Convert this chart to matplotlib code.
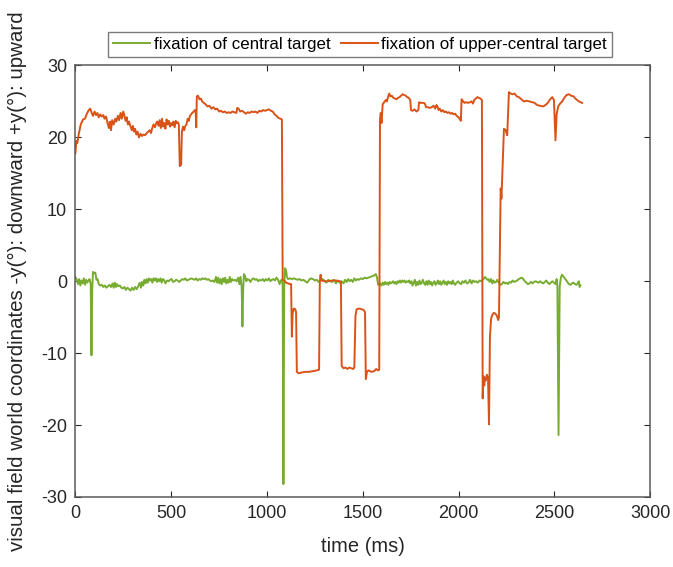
import numpy as np
import matplotlib.pyplot as plt

plt.rcParams['font.family'] = ['Liberation Sans', 'DejaVu Sans']
plt.rcParams['axes.unicode_minus'] = False

# fixation of central target: time (ms), vertical position (deg)
central_t = [0, 8, 14, 20, 26, 32, 38, 44, 50, 56, 62, 68, 74, 80, 84, 88, 92, 98, 104, 110,
             116, 122, 130, 138, 146, 154, 162, 170, 178, 186, 194, 200, 206, 212, 218, 224,
             232, 240, 248, 256, 264, 272, 280, 288, 296, 304, 312, 320, 328, 336, 342, 348,
             354, 360, 366, 372, 378, 384, 390, 396, 402, 408, 414, 420, 426, 432, 438, 444,
             450, 456, 462, 470, 478, 486, 494, 502, 510, 518, 526, 534, 542, 550, 558, 566,
             574, 582, 590, 598, 606, 614, 622, 630, 638, 646, 654, 662, 670, 678, 686, 694,
             702, 710, 718, 726, 734, 740, 746, 752, 758, 764, 770, 776, 782, 788, 794, 800,
             806, 812, 818, 826, 834, 842, 850, 856, 862, 868, 872, 876, 880, 886, 892, 898,
             906, 914, 922, 930, 938, 946, 954, 962, 970, 978, 986, 994, 1002, 1010, 1018,
             1026, 1034, 1042, 1050, 1058, 1066, 1072, 1078, 1082, 1086, 1090, 1094, 1100,
             1104, 1110, 1120, 1130, 1140, 1150, 1160, 1170, 1180, 1190, 1200, 1210, 1220,
             1230, 1240, 1250, 1260, 1270, 1280, 1290, 1300, 1310, 1320, 1330, 1340, 1350,
             1360, 1370, 1380, 1390, 1400, 1408, 1416, 1424, 1432, 1440, 1448, 1456, 1464,
             1472, 1480, 1490, 1500, 1510, 1520, 1530, 1540, 1550, 1560, 1568, 1574, 1580,
             1590, 1598, 1604, 1610, 1616, 1622, 1628, 1634, 1640, 1646, 1652, 1658, 1664,
             1670, 1676, 1682, 1688, 1694, 1700, 1706, 1712, 1718, 1724, 1730, 1736, 1742,
             1748, 1754, 1760, 1766, 1772, 1778, 1784, 1790, 1796, 1802, 1808, 1814, 1820,
             1826, 1832, 1838, 1844, 1850, 1856, 1862, 1868, 1874, 1880, 1886, 1892, 1898,
             1904, 1910, 1916, 1922, 1928, 1934, 1940, 1946, 1952, 1958, 1964, 1970, 1976,
             1982, 1990, 1998, 2006, 2014, 2020, 2028, 2036, 2044, 2052, 2060, 2068, 2076,
             2084, 2092, 2100, 2110, 2120, 2130, 2138, 2144, 2150, 2156, 2162, 2170, 2176,
             2182, 2188, 2196, 2202, 2210, 2218, 2226, 2234, 2242, 2250, 2258, 2266, 2274,
             2282, 2290, 2298, 2306, 2314, 2322, 2330, 2338, 2346, 2354, 2362, 2370, 2378,
             2386, 2394, 2402, 2410, 2418, 2426, 2434, 2442, 2450, 2458, 2466, 2474, 2482,
             2490, 2498, 2506, 2512, 2516, 2522, 2528, 2534, 2540, 2546, 2552, 2560, 2568,
             2576, 2584, 2592, 2600, 2608, 2616, 2622, 2628, 2632, 2636]
central_y = [0.6, 0.2, -0.4, 0.3, -0.6, 0.1, -0.3, 0.4, -0.5, 0.2, -0.2, 0.1, 0.3, -0.4, -10.3,
             -1.0, 1.3, 1.1, 1.2, 0.2, 0.3, -0.4, -0.6, -0.5, -0.8, -0.6, -0.9, -0.7, -0.5,
             -0.8, -0.3, -0.9, -0.2, -0.8, -0.4, -0.7, -0.6, -0.9, -1.0, -0.8, -1.2, -0.9,
             -1.1, -1.3, -0.9, -1.2, -0.8, -1.1, -0.7, -0.2, -0.9, -0.1, -0.6, 0.2, -0.3, 0.3,
             -0.2, 0.4, 0.1, 0.3, -0.2, 0.4, 0.1, 0.4, -0.1, 0.3, 0.0, 0.4, -0.2, 0.3, 0.2,
             -0.3, 0.1, 0.0, 0.2, 0.3, -0.1, 0.0, 0.2, 0.1, -0.1, 0.1, 0.3, 0.2, 0.4, 0.1,
             0.2, 0.3, 0.4, 0.3, 0.2, 0.4, 0.1, 0.3, 0.2, 0.4, 0.3, 0.4, 0.2, 0.3, 0.1, 0.0,
             0.1, -0.1, 0.6, -0.2, 0.5, -0.3, 0.3, -0.4, 0.4, -0.1, 0.5, -0.3, 0.2, -0.2,
             0.6, -0.1, 0.3, 0.1, 0.2, 0.0, 0.5, -0.4, 0.6, -0.8, -6.3, -1.0, 1.0, 0.7, 0.0,
             0.3, 0.2, -0.1, 0.3, 0.4, 0.2, 0.3, 0.0, 0.2, 0.1, 0.3, 0.0, 0.3, 0.1, 0.4, 0.0,
             0.2, 0.3, 0.1, 0.5, 0.2, -0.4, 0.1, 0.2, -0.5, -28.2, -0.8, 1.8, 1.5, 0.6, 0.3,
             0.4, 0.3, 0.4, 0.3, 0.2, 0.3, 0.1, 0.2, 0.0, -0.2, 0.2, 0.4, 0.3, 0.1, 0.2,
             -0.1, 0.2, 0.3, 0.1, -0.2, 0.2, 0.0, -0.1, 0.2, -0.3, 0.1, -0.2, 0.0, -0.3, 0.2,
             -0.1, 0.3, 0.0, 0.2, -0.1, 0.4, 0.1, 0.3, 0.2, 0.4, 0.3, 0.5, 0.4, 0.5, 0.6,
             0.7, 0.8, 1.0, 0.6, -0.5, -0.3, -0.6, -0.2, -0.5, -0.1, -0.4, -0.2, -0.5, -0.1,
             -0.3, -0.2, 0.0, -0.3, -0.1, -0.4, 0.0, -0.2, 0.1, -0.2, 0.1, -0.1, 0.1, -0.2,
             0.0, -0.1, 0.1, -0.3, 0.0, -0.6, -0.2, 0.2, -0.6, -0.1, -0.5, 0.1, -0.4, -0.2,
             0.2, -0.3, -0.5, 0.0, -0.5, 0.1, -0.4, -0.1, -0.6, -0.2, 0.0, -0.5, -0.3, 0.1,
             -0.4, 0.0, -0.5, -0.2, 0.1, -0.4, -0.1, -0.5, 0.0, -0.3, -0.1, -0.4, 0.1, -0.3,
             -0.5, -0.2, 0.0, -0.3, -0.4, 0.0, -0.2, 0.1, -0.3, -0.2, 0.2, -0.3, 0.1, -0.1,
             0.0, -0.2, 0.1, 0.0, 0.3, 0.6, 0.4, 0.2, 0.3, -0.1, 0.3, -0.3, 0.1, -0.2, -0.1,
             0.2, -0.2, -0.5, -0.4, -0.1, -0.3, -0.2, -0.4, -0.1, -0.2, 0.1, -0.1, 0.0, 0.1,
             0.3, 0.4, 0.5, 0.3, 0.0, -0.2, -0.4, -0.3, -0.1, -0.3, -0.1, 0.0, -0.1, -0.2,
             0.0, -0.2, -0.3, -0.1, 0.1, -0.2, -0.4, -0.2, 0.0, -0.2, -0.4, 0.3, -0.5, -21.4,
             -0.8, 0.5, 0.9, 0.7, 0.5, 0.2, -0.1, -0.4, -0.5, -0.3, -0.2, -0.4, -0.5, -0.3,
             0.0, -0.8, -0.6]

# fixation of upper-central target
upper_t = [0, 5, 10, 18, 28, 40, 50, 60, 70, 78, 85, 92, 100, 108, 115, 122, 130, 138, 146,
           152, 160, 168, 175, 180, 186, 192, 200, 208, 214, 222, 228, 236, 242, 250, 256,
           262, 268, 274, 280, 288, 295, 300, 306, 312, 318, 325, 332, 340, 348, 356, 364,
           372, 380, 388, 395, 400, 408, 415, 422, 428, 434, 440, 446, 452, 458, 464, 470,
           476, 482, 488, 494, 500, 506, 512, 518, 524, 530, 536, 540, 545, 552, 556, 562,
           568, 574, 580, 586, 592, 598, 604, 610, 618, 624, 628, 631, 634, 640, 648, 655,
           662, 670, 680, 690, 700, 710, 720, 730, 740, 750, 760, 770, 780, 790, 800, 810,
           820, 830, 840, 845, 852, 860, 870, 880, 890, 900, 910, 920, 930, 940, 950, 960,
           970, 980, 990, 1000, 1010, 1020, 1030, 1040, 1050, 1060, 1070, 1078, 1082, 1090,
           1100, 1110, 1120, 1126, 1130, 1134, 1140, 1148, 1152, 1156, 1165, 1180, 1200,
           1220, 1240, 1260, 1272, 1276, 1280, 1284, 1300, 1320, 1340, 1360, 1380, 1386,
           1390, 1400, 1410, 1420, 1430, 1440, 1450, 1456, 1462, 1468, 1480, 1495, 1505,
           1512, 1516, 1522, 1530, 1545, 1560, 1570, 1580, 1586, 1590, 1594, 1598, 1604,
           1612, 1620, 1626, 1632, 1638, 1645, 1652, 1660, 1668, 1676, 1684, 1692, 1700,
           1708, 1716, 1724, 1732, 1740, 1748, 1752, 1760, 1770, 1780, 1790, 1794, 1802,
           1812, 1820, 1826, 1830, 1840, 1850, 1860, 1870, 1878, 1885, 1890, 1896, 1902,
           1910, 1918, 1926, 1934, 1942, 1950, 1958, 1966, 1974, 1982, 1990, 2000, 2008,
           2012, 2016, 2024, 2032, 2040, 2050, 2060, 2068, 2075, 2082, 2090, 2098, 2106,
           2114, 2122, 2126, 2130, 2134, 2138, 2142, 2148, 2154, 2159, 2164, 2170, 2176,
           2184, 2192, 2200, 2207, 2211, 2220, 2224, 2237, 2246, 2254, 2263, 2272, 2282,
           2292, 2304, 2315, 2328, 2341, 2356, 2370, 2384, 2397, 2410, 2424, 2440, 2454,
           2466, 2478, 2489, 2498, 2506, 2512, 2520, 2530, 2541, 2552, 2564, 2576, 2588,
           2601, 2610, 2619, 2628, 2637, 2645]
upper_y = [17.8, 19.5, 19.2, 20.5, 21.8, 22.5, 22.6, 23.3, 23.8, 24.0, 23.4, 23.0, 23.6, 23.1,
           23.4, 22.8, 23.2, 22.9, 23.1, 22.6, 22.9, 22.0, 21.3, 22.2, 21.0, 22.4, 21.8, 22.6,
           22.2, 23.0, 22.4, 23.4, 22.6, 23.6, 23.0, 22.3, 22.8, 21.8, 22.2, 21.5, 21.0, 21.6,
           20.8, 21.2, 20.4, 20.8, 20.0, 20.5, 20.2, 20.4, 20.3, 20.6, 20.8, 21.0, 20.6, 21.2,
           21.8, 21.4, 22.0, 22.2, 21.6, 22.4, 21.3, 22.6, 21.5, 22.0, 21.2, 22.5, 21.8, 22.3,
           21.5, 22.0, 21.7, 22.2, 21.4, 22.3, 22.0, 22.1, 21.8, 16.0, 16.2, 20.8, 21.5, 21.0,
           21.6, 21.8, 22.6, 22.3, 23.0, 23.2, 23.4, 23.6, 23.8, 23.5, 21.4, 25.7, 25.8, 25.3,
           25.4, 25.0, 24.8, 24.6, 24.3, 24.4, 24.0, 24.2, 23.9, 24.0, 23.6, 23.7, 23.5, 23.6,
           23.4, 23.5, 23.4, 23.6, 23.5, 23.4, 24.1, 24.0, 23.6, 23.7, 23.5, 23.3, 23.5, 23.4,
           23.6, 23.5, 23.6, 23.4, 23.7, 23.6, 23.8, 23.7, 23.8, 23.9, 23.7, 23.6, 23.2, 23.0,
           22.7, 22.6, 22.5, 0.2, 0.1, -0.2, -0.3, -0.4, -0.4, -7.7, -4.5, -3.8, -3.9, -4.3,
           -12.6, -12.8, -12.7, -12.6, -12.6, -12.5, -12.4, -12.3, 0.0, 0.9, 0.1, 0.0, 0.0,
           0.1, 0.1, 0.0, -0.1, -11.8, -12.1, -12.0, -12.2, -12.0, -12.1, -12.2, -12.0, -4.8,
           -3.9, -3.8, -3.9, -4.0, -4.3, -13.6, -12.6, -12.4, -12.6, -12.5, -12.2, -12.4,
           -12.3, 22.5, 23.4, 22.0, 24.6, 24.9, 25.2, 25.0, 25.6, 26.1, 25.7, 25.8, 25.5,
           25.4, 25.3, 25.5, 25.6, 25.8, 26.0, 25.9, 25.8, 25.6, 25.5, 25.2, 23.8, 23.7,
           23.9, 23.6, 23.8, 24.9, 24.8, 24.8, 24.8, 24.6, 24.2, 24.2, 24.1, 24.2, 24.4,
           24.0, 24.5, 24.3, 23.8, 24.0, 23.6, 23.8, 23.5, 23.6, 23.4, 23.5, 23.3, 23.4,
           23.2, 23.3, 23.0, 22.8, 22.5, 22.3, 25.3, 25.0, 24.8, 24.9, 24.8, 24.9, 25.0,
           24.7, 25.2, 25.4, 25.6, 25.5, 25.4, 25.2, -16.3, -13.2, -14.5, -13.4, -13.8,
           -13.0, -13.5, -19.9, -7.7, -5.2, -4.7, -4.4, -4.5, -4.8, -5.4, -5.0, 12.9, 11.5,
           21.2, 21.0, 20.3, 26.3, 26.1, 26.0, 26.1, 25.7, 25.6, 25.3, 25.0, 25.1, 25.0,
           24.9, 24.8, 24.5, 24.4, 24.3, 24.5, 24.8, 25.3, 25.6, 25.2, 19.6, 23.2, 24.3,
           24.7, 25.0, 25.5, 25.9, 26.0, 25.8, 25.7, 25.4, 25.2, 25.0, 24.9, 24.8]

x_ticks = [0, 500, 1000, 1500, 2000, 2500, 3000]
y_ticks = [-30, -20, -10, 0, 10, 20, 30]

fig = plt.figure(figsize=(6.73, 5.67), dpi=100)
ax = fig.add_axes([0.112, 0.1235, 0.854, 0.761])

ax.plot(central_t, central_y, color='#77AC30', lw=1.4, label='fixation of central target')
ax.plot(upper_t, upper_y, color='#D95319', lw=1.4, label='fixation of upper-central target')

ax.set_xlim(0, 3000)
ax.set_ylim(-30, 30)
ax.set_xticks(x_ticks)
ax.set_yticks(y_ticks)
ax.tick_params(direction='in', length=4, width=0.8, top=True, right=True,
               labelsize=13, colors='#262626', pad=6)
for s in ax.spines.values():
    s.set_color('#5a5a5a')
    s.set_linewidth(1.1)

ax.set_xlabel('time (ms)', fontsize=14.5, color='#262626')
ax.xaxis.set_label_coords(0.5, -0.092)
ax.set_ylabel('visual field world coordinates -y(°): downward +y(°): upward',
              fontsize=14.8, color='#262626')
ax.yaxis.set_label_coords(-0.084, 0.5)

leg = fig.legend(loc='center', bbox_to_anchor=(360 / 673, 1 - 44.5 / 567), ncol=2,
                 fontsize=12.2, frameon=True, fancybox=False, handlelength=2.2,
                 handletextpad=0.2, columnspacing=0.6, borderpad=0.3,
                 borderaxespad=0)
leg.get_frame().set_edgecolor('#5a5a5a')
leg.get_frame().set_linewidth(1.0)

fig.savefig('out.png', dpi=100)
